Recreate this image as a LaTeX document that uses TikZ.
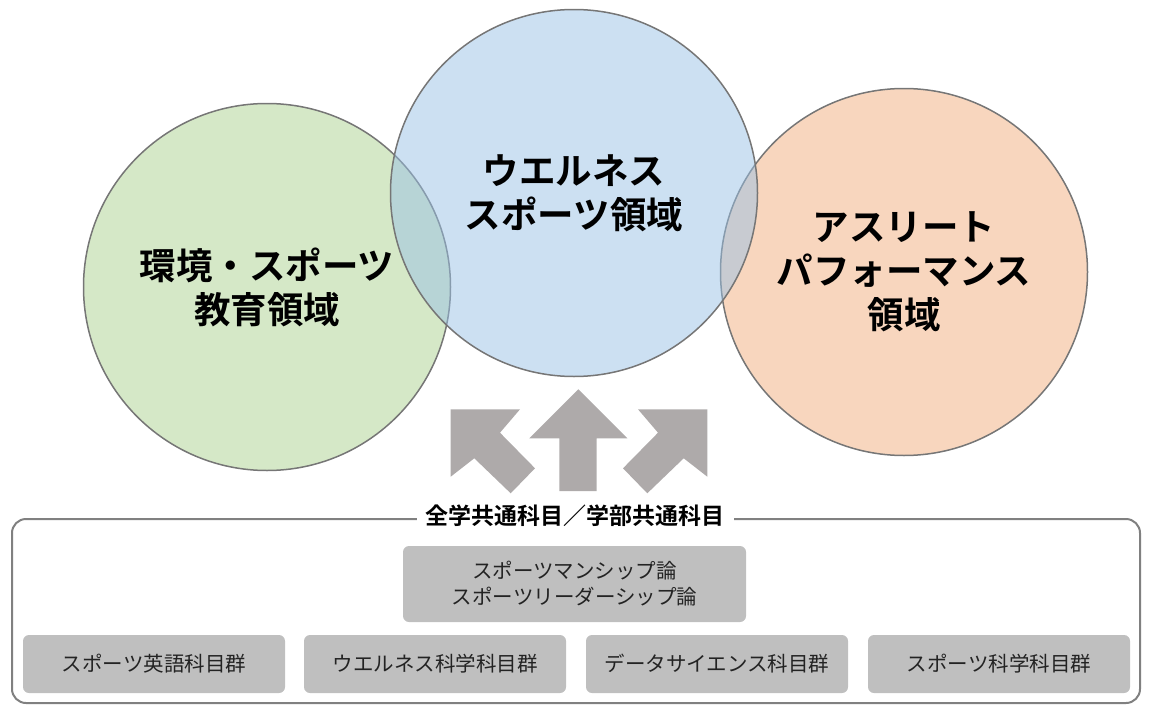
\documentclass[tikz,border=0pt]{standalone}
\usepackage{fontspec}
\setmainfont{Noto Sans CJK JP}[BoldFont={Noto Sans CJK JP Bold}]
\definecolor{cgreen}{RGB}{171,209,143}
\definecolor{cblue}{RGB}{153,193,229}
\definecolor{corange}{RGB}{241,173,125}
\definecolor{cstroke}{RGB}{118,118,118}
\definecolor{carrow}{RGB}{174,170,170}
\definecolor{cbox}{RGB}{191,191,191}
\definecolor{cframe}{RGB}{128,128,128}
\definecolor{ctext}{RGB}{35,35,35}
\begin{document}
\begin{tikzpicture}[x=1pt,y=-1pt,
  area/.style={circle,draw=cstroke,line width=1.5pt,fill opacity=0.5,text opacity=1,draw opacity=1,
    inner sep=0pt,minimum size=367pt,align=center,
    font=\fontsize{36.5}{44}\selectfont\bfseries,text=black},
  subj/.style={rounded corners=6pt,fill=cbox,inner sep=0pt,align=center,
    font=\fontsize{20.5}{26}\selectfont,text=ctext},
  arr/.style={fill=carrow,draw=none}]
\useasboundingbox (0,0) rectangle (1149,720);
% circles
\node[area,fill=cgreen] (green) at (267,287) {環境・スポーツ\\教育領域};
\node[area,fill=corange] (orange) at (904,272) {アスリート\\パフォーマンス\\領域};
\node[area,fill=cblue] (blue) at (574,193) {ウエルネス\\スポーツ領域};
% arrows
\fill[arr] (450.7,409.3) -- (520,409.3) -- (500,432.7) -- (535,468.3) -- (510.7,493.3)
  -- (474.3,458.3) -- (450.7,476.7) -- cycle;
\fill[arr] (578.3,389.3) -- (627.3,438.3) -- (596.7,438.3) -- (596.7,491) -- (559.3,491)
  -- (559.3,438.3) -- (529.3,438.3) -- cycle;
\fill[arr] (707.3,409.3) -- (638,409.3) -- (658,432.7) -- (623,468.3) -- (647.3,493.3)
  -- (683.7,458.3) -- (707.3,476.7) -- cycle;
% frame
\draw[cframe,line width=2pt,rounded corners=14pt] (12,519) rectangle (1140,703);
\node[fill=white,inner xsep=9pt,inner ysep=2pt,font=\fontsize{23}{26}\selectfont\bfseries]
  (label) at (575,516) {全学共通科目／学部共通科目};
% subject boxes
\node[subj,minimum width=343pt,minimum height=76pt] (top) at (574.5,584) {スポーツマンシップ論\\スポーツリーダーシップ論};
\node[subj,minimum width=262pt,minimum height=58pt] (b1) at (154,664) {スポーツ英語科目群};
\node[subj,minimum width=262pt,minimum height=58pt] (b2) at (435,664) {ウエルネス科学科目群};
\node[subj,minimum width=262pt,minimum height=58pt] (b3) at (717,664) {データサイエンス科目群};
\node[subj,minimum width=262pt,minimum height=58pt] (b4) at (999,664) {スポーツ科学科目群};
\end{tikzpicture}
\end{document}
